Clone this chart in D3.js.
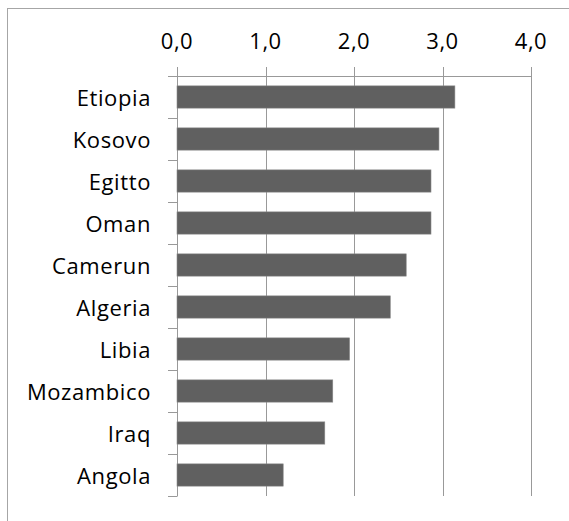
<!DOCTYPE html>
<html>
<head>
  <script src="https://d3js.org/d3.v7.min.js"></script>
  <style>
    body { margin: 0; background: #fff; }
    svg { display: block; }
    text { font-family: "Open Sans", sans-serif; fill: #000; font-size: 22px; }
  </style>
</head>
<body>
  <svg width="569" height="521"></svg>
  <script>
    // data
    var countries = ["Etiopia", "Kosovo", "Egitto", "Oman", "Camerun", "Algeria", "Libia", "Mozambico", "Iraq", "Angola"];
    var values = [3.14, 2.96, 2.87, 2.87, 2.59, 2.41, 1.95, 1.76, 1.67, 1.20];
    var ticks = [0, 1, 2, 3, 4];

    var svg = d3.select("svg");

    // chart border (right and bottom edges are off the picture)
    svg.append("rect")
      .attr("x", 7.5).attr("y", 8.5)
      .attr("width", 600).attr("height", 600)
      .attr("fill", "none").attr("stroke", "#a6a6a6");

    var x = d3.scaleLinear().domain([0, 4]).range([177, 531]);
    var y = d3.scaleBand().domain(countries).range([76, 496]).paddingInner(0.47).paddingOuter(0.235);
    var step = 420 / countries.length;

    // vertical gridlines
    svg.selectAll(".grid")
      .data(ticks)
      .enter().append("line")
      .attr("x1", function(d) { return Math.round(x(d)) + 0.5; })
      .attr("x2", function(d) { return Math.round(x(d)) + 0.5; })
      .attr("y1", 67).attr("y2", 496)
      .attr("stroke", "#999");

    // top axis line
    svg.append("line")
      .attr("x1", 168).attr("x2", 531.5)
      .attr("y1", 76.5).attr("y2", 76.5)
      .attr("stroke", "#999");

    // category ticks
    svg.selectAll(".ctick")
      .data(d3.range(countries.length + 1))
      .enter().append("line")
      .attr("x1", 168).attr("x2", 177.5)
      .attr("y1", function(i) { return Math.round(76 + i * step) + 0.5; })
      .attr("y2", function(i) { return Math.round(76 + i * step) + 0.5; })
      .attr("stroke", "#999");

    // tick labels
    svg.selectAll(".xl")
      .data(ticks)
      .enter().append("text")
      .attr("x", function(d) { return x(d); })
      .attr("y", 49)
      .attr("text-anchor", "middle")
      .style("letter-spacing", "0.5px")
      .text(function(d) { return d.toFixed(1).replace(".", ","); });

    // bars
    svg.selectAll(".bar")
      .data(values)
      .enter().append("rect")
      .attr("x", x(0))
      .attr("y", function(d, i) { return y(countries[i]); })
      .attr("width", function(d) { return x(d) - x(0); })
      .attr("height", y.bandwidth())
      .attr("fill", "#606060")
      .attr("stroke", "#8a8a8a").attr("stroke-width", 0.6);

    // category labels
    svg.selectAll(".cl")
      .data(countries)
      .enter().append("text")
      .attr("x", 151)
      .attr("y", function(d) { return y(d) + y.bandwidth() / 2 + 8.5; })
      .attr("text-anchor", "end")
      .style("letter-spacing", "0.6px")
      .text(function(d) { return d; });
  </script>
</body>
</html>
